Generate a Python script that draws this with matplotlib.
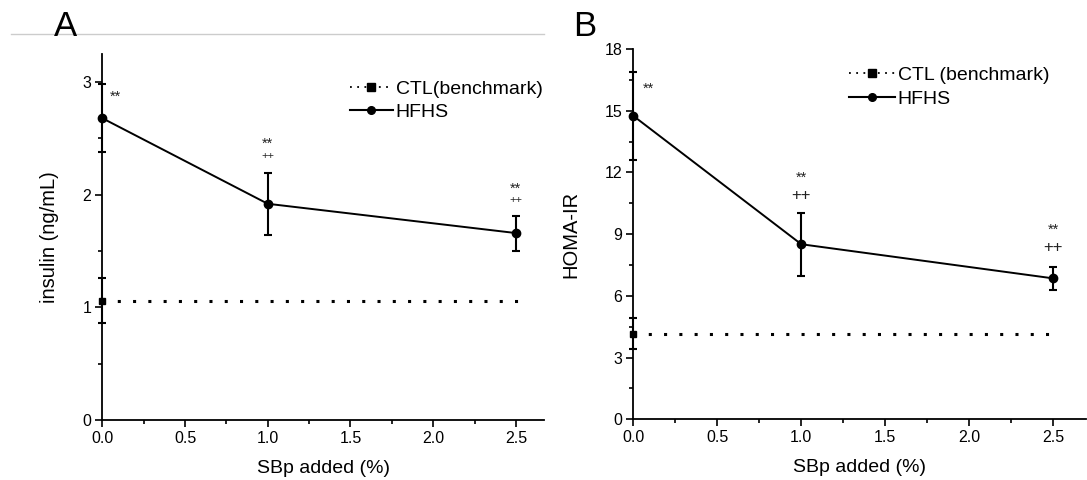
import matplotlib
matplotlib.use("Agg")
import matplotlib.pyplot as plt
from matplotlib.lines import Line2D

plt.rcParams['font.family'] = ['Liberation Sans', 'DejaVu Sans']

# ---- data ----
sbp = [0.0, 1.0, 2.5]
xticks = [0.0, 0.5, 1.0, 1.5, 2.0, 2.5]

insulin_hfhs = [2.68, 1.92, 1.66]
insulin_hfhs_err = [0.30, 0.275, 0.155]
insulin_ctl = 1.06
insulin_ctl_err = 0.20

homa_hfhs = [14.75, 8.51, 6.85]
homa_hfhs_err = [2.15, 1.53, 0.55]
homa_ctl = 4.17
homa_ctl_err = 0.75

sig_marks = [["**"], ["**", "++"], ["**", "++"]]

W, H = 1087, 480
fig = plt.figure(figsize=(W / 100, H / 100), dpi=100)


def px(x, y):
    return x / W, 1 - y / H


# top grey rule and panel letters
fig.add_artist(Line2D([11 / W, 544 / W], [1 - 34 / H, 1 - 34 / H], color='#cccccc', lw=1))
fig.text(*px(54, 27), "A", fontsize=25, va='center', ha='left')
fig.text(*px(573, 27), "B", fontsize=25, va='center', ha='left')


def panel(ax, hfhs, herr, ctl, cerr, ylim, yticks, yminor, xlim, ctl_end, ylabel,
          ylabelpad, legend_ctl, leg_xy, leg_hl, leg_sp, sig_y, plus_size, star_dx):
    ax.set_xlim(*xlim)
    ax.set_ylim(*ylim)
    for s in ['top', 'right']:
        ax.spines[s].set_visible(False)
    for s in ['left', 'bottom']:
        ax.spines[s].set_linewidth(1.3)
    ax.set_xticks(xticks)
    ax.set_xticklabels([f"{v:.1f}" for v in xticks])
    ax.set_xticks([0.25, 0.75, 1.25, 1.75, 2.25], minor=True)
    ax.set_yticks(yticks)
    ax.set_yticks(yminor, minor=True)
    ax.tick_params(axis='both', which='major', direction='out', length=5, width=1.2,
                   labelsize=11.5, pad=3)
    ax.tick_params(axis='both', which='minor', direction='out', length=3, width=1.2)

    # CTL benchmark
    ax.hlines(ctl, 0, ctl_end, colors='black', linestyles=(0, (1, 4)), lw=2.2)
    ax.errorbar([0], [ctl], yerr=[cerr], fmt='s', color='black', ms=4.5,
                capsize=3, elinewidth=1.5, capthick=1.5, clip_on=False, zorder=5)
    # HFHS
    ax.errorbar(sbp, hfhs, yerr=herr, fmt='-o', color='black', ms=6, lw=1.4,
                capsize=3, elinewidth=1.5, capthick=1.5, clip_on=False, zorder=6)

    for x, marks, ys in zip(sbp, sig_marks, sig_y):
        for m, y in zip(marks, ys):
            fs = 10.5 if m == "**" else plus_size
            xx = x + star_dx if x == 0 else x
            ax.text(xx, y, m, ha='center', va='center', fontsize=fs, color='#222222')

    ax.set_ylabel(ylabel, fontsize=14.5, labelpad=ylabelpad)
    ax.set_xlabel("SBp added (%)", fontsize=14, labelpad=10)

    h1 = Line2D([], [], color='black', linestyle=(0, (1, 3)), lw=1.3, marker='s', ms=5.5)
    h2 = Line2D([], [], color='black', linestyle='-', lw=1.5, marker='o', ms=5.5)
    fig.legend([h1, h2], [legend_ctl, "HFHS"], loc='upper left',
               bbox_to_anchor=px(*leg_xy), bbox_transform=fig.transFigure,
               frameon=False, fontsize=14, handlelength=leg_hl, handletextpad=0.15,
               labelspacing=leg_sp, borderaxespad=0, borderpad=0)


axA = fig.add_axes([102.3 / W, 1 - 420 / H, (544 - 102.3) / W, (420 - 54) / H])
panel(axA, insulin_hfhs, insulin_hfhs_err, insulin_ctl, insulin_ctl_err,
      (0, 3.25), [0, 1, 2, 3], [0.5, 1.5, 2.5], (0, 2.67), 2.56,
      "insulin (ng/mL)", 17, "CTL(benchmark)", (350, 80), 2.2, 0.3,
      [[2.87], [2.45, 2.34], [2.05, 1.95]], 8, 0.077)

axB = fig.add_axes([633.3 / W, 1 - 419.3 / H, (1086 - 633.3) / W, (419.3 - 49) / H])
panel(axB, homa_hfhs, homa_hfhs_err, homa_ctl, homa_ctl_err,
      (0, 18), [0, 3, 6, 9, 12, 15, 18], [1.5, 4.5, 7.5, 10.5, 13.5, 16.5],
      (0, 2.695), 2.53, "HOMA-IR", 17, "CTL (benchmark)", (849, 66), 2.35, 0.35,
      [[16.06], [11.73, 10.9], [9.2, 8.33]], 12, 0.093)

fig.savefig("out.png", dpi=100)
